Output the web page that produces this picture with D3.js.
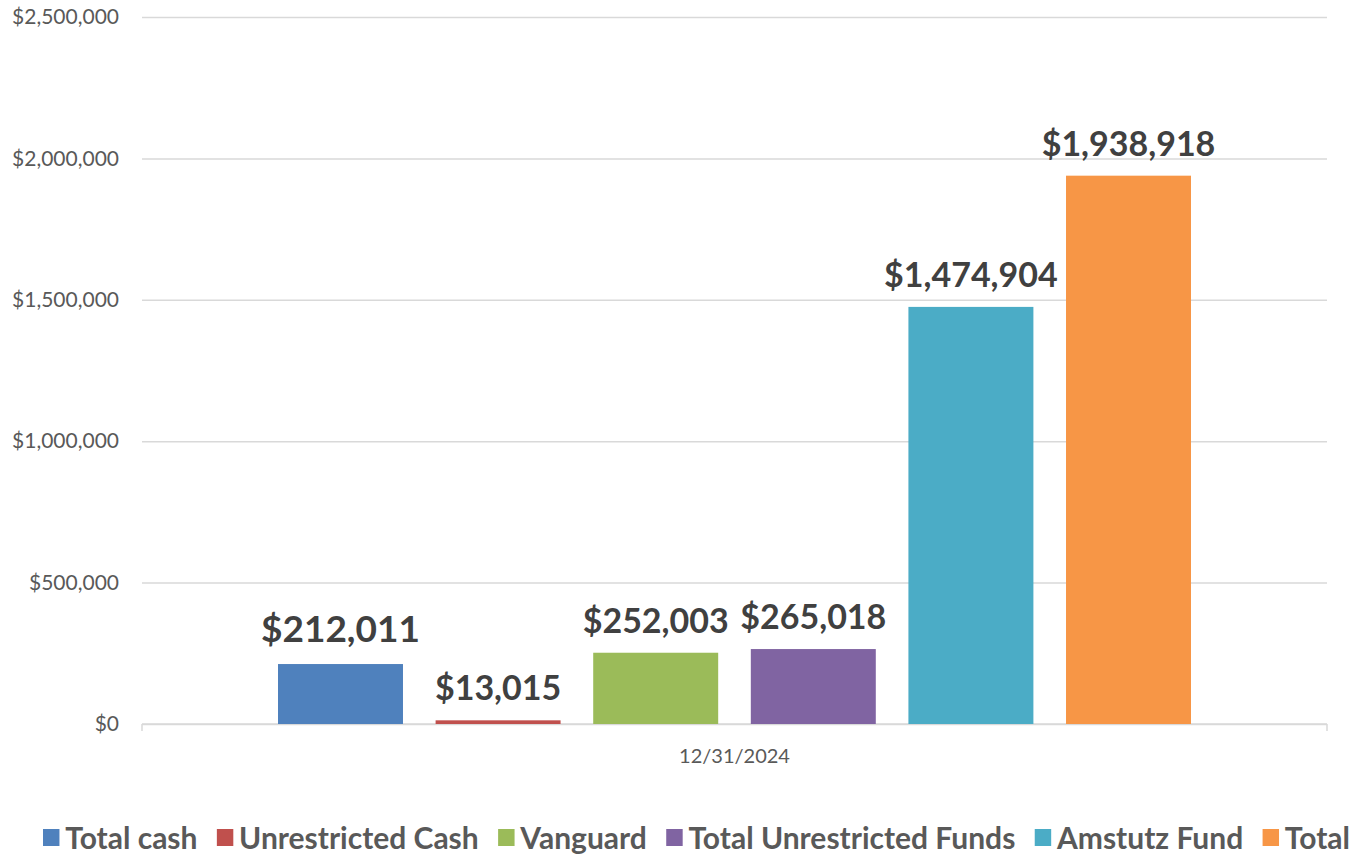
<!DOCTYPE html>
<html>
<head>
<meta charset="utf-8">
<script src="https://cdn.jsdelivr.net/npm/d3@7"></script>
<style>
  body { margin: 0; background: #fff; }
</style>
</head>
<body>
<div id="chart"></div>
<script>
// data
const seriesNames = ["Total cash", "Unrestricted Cash", "Vanguard", "Total Unrestricted Funds", "Amstutz Fund", "Total"];
const seriesValues = [212011, 13015, 252003, 265018, 1474904, 1938918];
const seriesColors = ["#4F81BD", "#C0504D", "#9BBB59", "#8064A2", "#4BACC6", "#F79646"];
const category = "12/31/2024";
const yTicks = [0, 500000, 1000000, 1500000, 2000000, 2500000];

const width = 1357;
const height = 859;
const plot = {l: 142, r: 1327, t: 17, b: 724};

const svg = d3.select("#chart")
    .append("svg")
    .attr("width", width)
    .attr("height", height)
    .attr("viewBox", [0, 0, width, height]);

const fmt = d3.format("$,.0f");

const yScale = d3.scaleLinear()
    .domain([0, 2500000])
    .range([plot.b, plot.t]);

// bars sit in one category group, gap of ~136px each side
const xScale = d3.scaleBand()
    .domain(seriesNames)
    .range([plot.l + 136, plot.r - 136])
    .paddingInner(0.207)
    .paddingOuter(0);

//gridlines + y labels
const y_axis = d3.axisLeft(yScale)
    .tickValues(yTicks)
    .tickFormat(fmt)
    .tickSize(-(plot.r - plot.l))
    .tickPadding(23);
const gy = svg.append("g")
    .attr("transform", `translate(${plot.l}, 0)`)
    .call(y_axis);
gy.select(".domain").remove();
gy.selectAll(".tick line")
    .attr("stroke", "#d9d9d9")
    .attr("stroke-width", 1.5);
gy.selectAll(".tick text")
    .attr("fill", "#595959")
    .attr("font-family", "Lato, sans-serif")
    .attr("font-size", "21px");

//x axis line
svg.append("line")
    .attr("x1", plot.l)
    .attr("x2", plot.r)
    .attr("y1", plot.b)
    .attr("y2", plot.b)
    .attr("stroke", "#d9d9d9")
    .attr("stroke-width", 1.5);
[plot.l, plot.r].forEach(x => {
    svg.append("line")
        .attr("x1", x)
        .attr("x2", x)
        .attr("y1", plot.b)
        .attr("y2", plot.b + 7)
        .attr("stroke", "#d9d9d9")
        .attr("stroke-width", 1.5);
});
svg.append("text")
    .attr("x", (plot.l + plot.r) / 2)
    .attr("y", 763)
    .attr("text-anchor", "middle")
    .attr("fill", "#595959")
    .attr("font-family", "Lato, sans-serif")
    .attr("font-size", "20px")
    .text(category);

//bars
svg.selectAll(".bar")
    .data(seriesNames)
    .join("rect")
    .attr("class", "bar")
    .attr("x", d => xScale(d))
    .attr("width", xScale.bandwidth())
    .attr("y", (d, i) => yScale(seriesValues[i]))
    .attr("height", (d, i) => yScale(0) - yScale(seriesValues[i]))
    .attr("fill", (d, i) => seriesColors[i]);

//value labels
const labelSize = [37, 34, 34, 34, 34, 34];
svg.selectAll(".lbl")
    .data(seriesNames)
    .join("text")
    .attr("class", "lbl")
    .attr("x", d => xScale(d) + xScale.bandwidth() / 2)
    .attr("y", (d, i) => yScale(seriesValues[i]) - (i === 0 ? 22 : 20))
    .attr("text-anchor", "middle")
    .attr("fill", "#404040")
    .attr("font-family", "Lato, sans-serif")
    .attr("font-weight", "bold")
    .attr("font-size", (d, i) => labelSize[i] + "px")
    .text((d, i) => fmt(seriesValues[i]));

//legend
const legend = svg.append("g");
let lx = 0;
seriesNames.forEach((name, i) => {
    legend.append("rect")
        .attr("x", lx)
        .attr("y", -8)
        .attr("width", 17)
        .attr("height", 17)
        .attr("fill", seriesColors[i]);
    const t = legend.append("text")
        .attr("x", lx + 23)
        .attr("y", 12)
        .attr("fill", "#595959")
        .attr("font-family", "Lato, sans-serif")
        .attr("font-weight", "bold")
        .attr("font-size", "31px")
        .text(name);
    lx += 23 + t.node().getComputedTextLength() + 20;
});
const legendW = lx - 20;
const sx = (1350 - 43) / legendW;
legend.attr("transform", `translate(43, 837) scale(${sx}, 1)`);
</script>
</body>
</html>
